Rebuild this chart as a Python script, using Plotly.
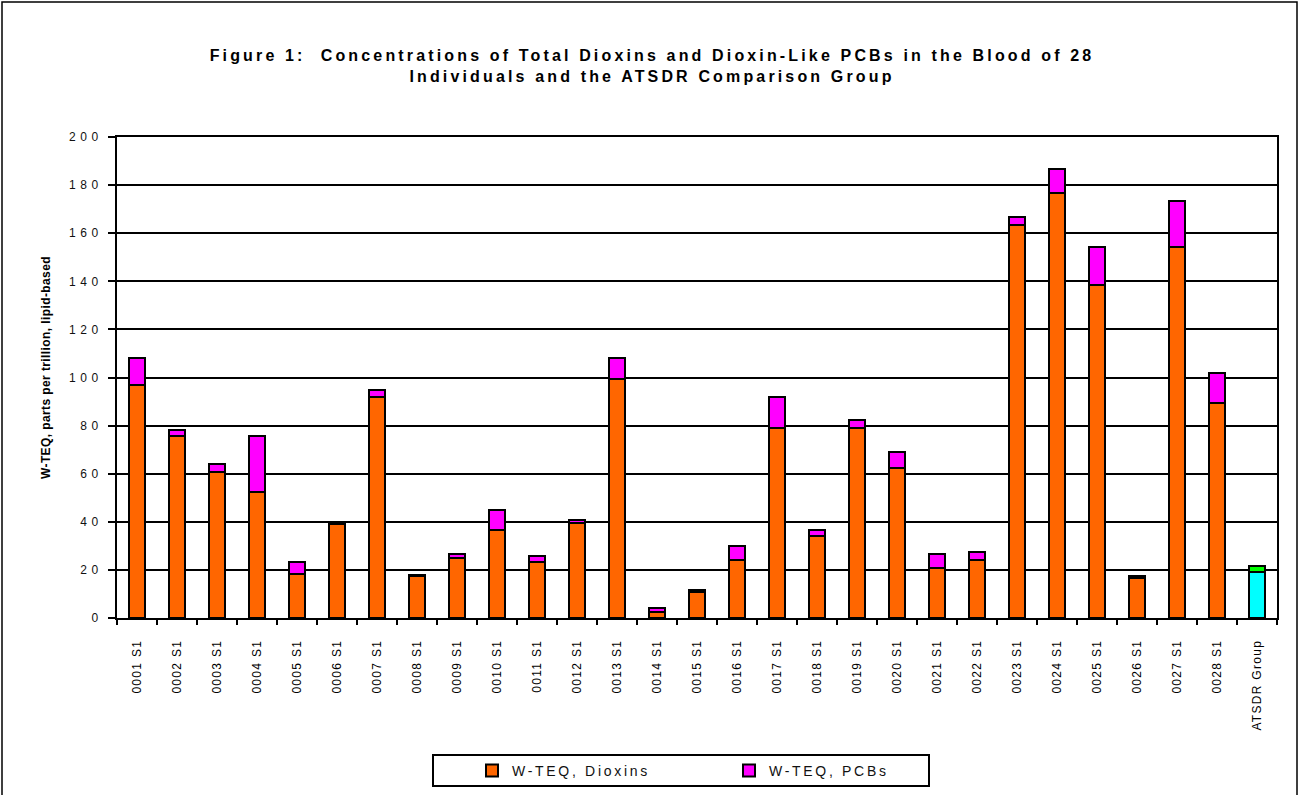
import plotly.graph_objects as go

categories = ["0001 S1", "0002 S1", "0003 S1", "0004 S1", "0005 S1", "0006 S1", "0007 S1",
              "0008 S1", "0009 S1", "0010 S1", "0011 S1", "0012 S1", "0013 S1", "0014 S1",
              "0015 S1", "0016 S1", "0017 S1", "0018 S1", "0019 S1", "0020 S1", "0021 S1",
              "0022 S1", "0023 S1", "0024 S1", "0025 S1", "0026 S1", "0027 S1", "0028 S1",
              "ATSDR Group"]
dioxins = [96.7, 75.8, 60.8, 52.5, 18.3, 39.0, 91.7, 17.5, 24.9, 36.7,
           23.3, 39.3, 99.3, 2.5, 10.8, 24.2, 79.2, 34.2, 79.2, 62.5,
           20.8, 24.2, 163.3, 176.7, 138.3, 16.7, 154.2, 89.2, 19.2]
totals = [108.2, 78.2, 64.2, 75.8, 23.3, 39.4, 95.0, 17.8, 26.7, 45.0,
          25.8, 40.8, 108.2, 4.2, 11.7, 30.0, 91.7, 36.7, 82.5, 69.2,
          26.7, 27.5, 166.7, 186.7, 154.2, 17.5, 173.3, 101.7, 21.7]
pcbs = [round(t - d, 2) for t, d in zip(totals, dioxins)]
y_ticks = [0, 20, 40, 60, 80, 100, 120, 140, 160, 180, 200]

dioxin_colors = ["#FF6600"] * 28 + ["#00FFFF"]
pcb_colors = ["#FF00FF"] * 28 + ["#00FF00"]

font = "Liberation Sans, Arial, sans-serif"


def spaced(text, ls):
    return f'<span style="letter-spacing:{ls}px">{text}</span>'


fig = go.Figure()
fig.add_trace(go.Bar(x=categories, y=dioxins, name=spaced("W-TEQ, Dioxins", 2.7),
                     marker=dict(color=dioxin_colors, line=dict(color="black", width=2))))
fig.add_trace(go.Bar(x=categories, y=pcbs, name=spaced("W-TEQ, PCBs", 2.7),
                     marker=dict(color=pcb_colors, line=dict(color="black", width=2))))

L, R, T, B = 117, 22, 137, 177
W, H = 1299, 795
pw, ph = W - L - R, H - T - B


def px(x):
    return (x - L) / pw


def py(y):
    return (H - B - y) / ph


title_text = ("<b>" + spaced("Figure 1:  Concentrations of Total Dioxins and Dioxin-Like PCBs in the Blood of 28", 3.15)
              + "<br>" + spaced("Individuals and the ATSDR Comparison Group", 3.15) + "</b>")

fig.update_layout(
    width=W, height=H,
    barmode="stack", bargap=0.58,
    paper_bgcolor="white", plot_bgcolor="white",
    margin=dict(l=L, r=R, t=T, b=B, autoexpand=False),
    font=dict(family=font, color="black", size=12),
    title=dict(text=title_text, x=652 / W, xanchor="center", y=1 - 61 / H, yanchor="middle",
               font=dict(family=font, size=16, color="black")),
    showlegend=True,
    legend=dict(orientation="h", x=px(472), xanchor="left", y=py(771), yanchor="middle",
                borderwidth=0, bgcolor="rgba(0,0,0,0)",
                font=dict(family=font, size=14, color="#111111"),
                entrywidth=212, itemwidth=30, traceorder="normal"),
    xaxis=dict(type="category", showline=True, linecolor="black", linewidth=2, mirror=True,
               ticks="outside", tickson="boundaries", ticklen=5, tickcolor="black", tickwidth=2,
               tickangle=-90, tickmode="array", tickvals=categories,
               ticktext=[spaced(c, 1.3) for c in categories], ticklabelstandoff=15,
               tickfont=dict(family=font, size=12, color="black"),
               showgrid=False),
    yaxis=dict(range=[0, 200], showline=True, linecolor="black", linewidth=2, mirror=True,
               tickmode="array", tickvals=y_ticks, ticktext=[spaced(str(v), 4.5) for v in y_ticks],
               ticks="outside", ticklen=7, tickcolor="black", tickwidth=2, ticklabelstandoff=3,
               showgrid=True, gridcolor="black", gridwidth=2, zeroline=False,
               tickfont=dict(family=font, size=12, color="#111111")),
    annotations=[dict(text="<b>" + spaced("W-TEQ, parts per trillion, lipid-based", 0.4) + "</b>",
                      xref="paper", yref="paper", x=px(46), y=py(368),
                      xanchor="center", yanchor="middle", textangle=-90, showarrow=False,
                      font=dict(family=font, size=12, color="black"))],
    shapes=[dict(type="rect", xref="paper", yref="paper",
                 x0=px(2), x1=px(1297), y0=py(800), y1=py(2),
                 line=dict(color="black", width=1.5), fillcolor="rgba(0,0,0,0)"),
            dict(type="rect", xref="paper", yref="paper",
                 x0=px(433), x1=px(929), y0=py(786), y1=py(755),
                 line=dict(color="black", width=2), fillcolor="rgba(0,0,0,0)")],
)

fig.write_html("out.html", config={"displayModeBar": False},
               post_script="document.body.style.margin='0';document.body.style.overflow='hidden';")
